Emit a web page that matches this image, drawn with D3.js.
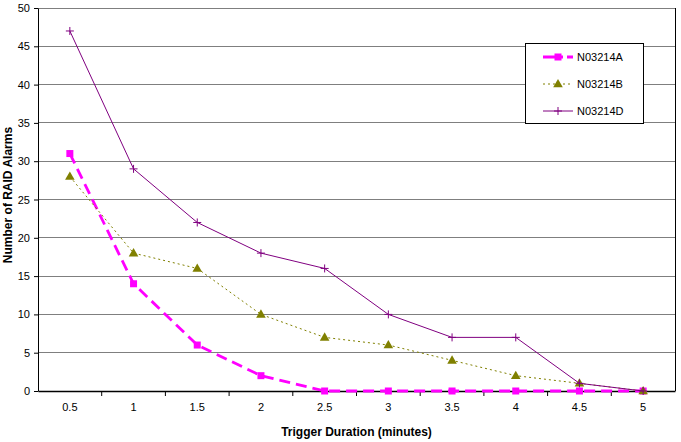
<!DOCTYPE html>
<html>
<head>
<meta charset="utf-8">
<script src="https://cdn.jsdelivr.net/npm/d3@7"></script>
<style>
  body { margin: 0; background: #fff; }
  svg { display: block; font-family: "Liberation Sans", Arial, sans-serif; }
</style>
</head>
<body>
<div id="chart"></div>
<script>
const durations = ["0.5", "1", "1.5", "2", "2.5", "3", "3.5", "4", "4.5", "5"]
const alarmsA = [31, 14, 6, 2, 0, 0, 0, 0, 0, 0]
const alarmsB = [28, 18, 16, 10, 7, 6, 4, 2, 1, 0]
const alarmsD = [47, 29, 22, 18, 16, 10, 7, 7, 1, 0]
const seriesNames = ["N03214A", "N03214B", "N03214D"]
const yTicks = [0, 5, 10, 15, 20, 25, 30, 35, 40, 45, 50]

const WIDTH = 681
const HEIGHT = 442
const plotLeft = 38, plotRight = 675, plotTop = 8, plotBottom = 391

// styles per series: colour, width, dash, marker
const STYLES = [
    { color: "#ff00ff", width: 2.8, dash: "11,6", legendDash: "20,4", marker: "square" },
    { color: "#808000", width: 1, dash: "2,3", legendDash: "2,3", marker: "triangle" },
    { color: "#800080", width: 1, dash: null, legendDash: null, marker: "plus" }
]
const seriesData = [alarmsA, alarmsB, alarmsD]

const svg = d3.select("#chart").append("svg")
    .attr("width", WIDTH)
    .attr("height", HEIGHT)

const x = d3.scaleBand().domain(durations).range([plotLeft, plotRight])
const y = d3.scaleLinear().domain([0, 50]).range([plotBottom, plotTop])

// gridlines
svg.append("g")
    .selectAll("line")
    .data(yTicks.filter(d => d > 0))
    .join("line")
    .attr("x1", plotLeft)
    .attr("x2", plotRight)
    .attr("y1", d => y(d))
    .attr("y2", d => y(d))
    .attr("stroke", "#7f7f7f")
    .attr("stroke-width", 1)
    .attr("shape-rendering", "crispEdges")

// right border
svg.append("line")
    .attr("x1", plotRight).attr("x2", plotRight)
    .attr("y1", plotTop).attr("y2", plotBottom)
    .attr("stroke", "#000")
    .attr("shape-rendering", "crispEdges")

// y axis
const yAxis = svg.append("g")
    .attr("transform", "translate(" + plotLeft + ",0)")
    .call(d3.axisLeft(y).tickValues(yTicks).tickSize(4).tickSizeOuter(0))
yAxis.select(".domain").attr("stroke", "#000")
yAxis.selectAll("line").attr("stroke", "#000")
yAxis.selectAll("text")
    .attr("font-size", 11)
    .attr("fill", "#000")
    .attr("x", -8)

// x axis with ticks between categories
const xAxis = svg.append("g")
    .attr("transform", "translate(0," + plotBottom + ")")
    .call(d3.axisBottom(x).tickSize(0).tickSizeOuter(0).tickPadding(12))
xAxis.select(".domain").attr("stroke", "#000").attr("stroke-width", 1.5)
xAxis.selectAll("text").attr("font-size", 11).attr("fill", "#000")
xAxis.selectAll(".bound")
    .data(durations.slice(1))
    .join("line")
    .attr("class", "bound")
    .attr("x1", d => x(d))
    .attr("x2", d => x(d))
    .attr("y1", 0)
    .attr("y2", 5)
    .attr("stroke", "#000")

// axis titles
svg.append("text")
    .attr("x", (plotLeft + plotRight) / 2)
    .attr("y", 436)
    .attr("text-anchor", "middle")
    .attr("font-size", 12)
    .attr("font-weight", "bold")
    .text("Trigger Duration (minutes)")

svg.append("text")
    .attr("transform", "translate(12,195) rotate(-90)")
    .attr("text-anchor", "middle")
    .attr("font-size", 12)
    .attr("font-weight", "bold")
    .text("Number of RAID Alarms")

function drawMarker(g, kind, cx, cy, color) {
    if (kind === "square") {
        g.append("rect")
            .attr("x", cx - 3.5).attr("y", cy - 3.5)
            .attr("width", 7).attr("height", 7)
            .attr("fill", color)
    } else if (kind === "triangle") {
        g.append("path")
            .attr("d", d3.symbol(d3.symbolTriangle, 40)())
            .attr("transform", "translate(" + cx + "," + (cy + 0.5) + ")")
            .attr("fill", color)
    } else {
        g.append("path")
            .attr("d", "M" + (cx - 4) + "," + cy + "H" + (cx + 4) + "M" + cx + "," + (cy - 4) + "V" + (cy + 4))
            .attr("stroke", color)
            .attr("stroke-width", 1)
    }
}

const line = d3.line()
    .x((d, i) => x(durations[i]) + x.bandwidth() / 2)
    .y(d => y(d))

seriesData.forEach((values, k) => {
    const st = STYLES[k]
    const g = svg.append("g")
    g.append("path")
        .datum(values)
        .attr("d", line)
        .attr("fill", "none")
        .attr("stroke", st.color)
        .attr("stroke-width", st.width)
        .attr("stroke-dasharray", st.dash)
    values.forEach((v, i) => {
        drawMarker(g, st.marker, x(durations[i]) + x.bandwidth() / 2, y(v), st.color)
    })
})

// legend
const legend = svg.append("g")
legend.append("rect")
    .attr("x", 525.5).attr("y", 43.5)
    .attr("width", 118).attr("height", 80)
    .attr("fill", "#fff")
    .attr("stroke", "#000")
const legendY = [57, 84, 111]
seriesNames.forEach((name, k) => {
    const st = STYLES[k]
    const ly = legendY[k]
    legend.append("line")
        .attr("x1", 543).attr("x2", 573)
        .attr("y1", ly).attr("y2", ly)
        .attr("stroke", st.color)
        .attr("stroke-width", st.width)
        .attr("stroke-dasharray", st.legendDash)
    drawMarker(legend, st.marker, 558, ly, st.color)
    legend.append("text")
        .attr("x", 577)
        .attr("y", ly + 4)
        .attr("font-size", 11)
        .text(name)
})
</script>
</body>
</html>
